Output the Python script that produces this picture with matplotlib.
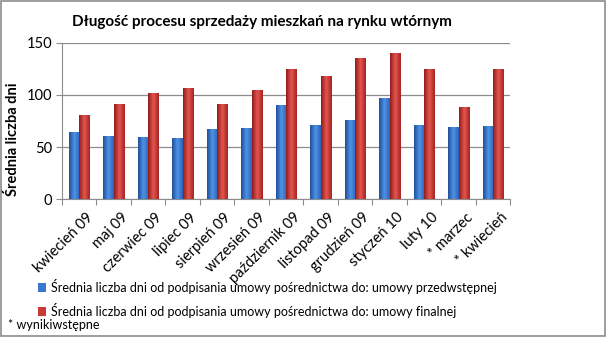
import numpy as np
import matplotlib.pyplot as plt
from matplotlib import patches
from matplotlib.colors import LinearSegmentedColormap

months = ['kwiecień 09', 'maj 09', 'czerwiec 09', 'lipiec 09', 'sierpień 09',
          'wrzesień 09', 'październik 09', 'listopad 09', 'grudzień 09',
          'styczeń 10', 'luty 10', '* marzec', '* kwiecień']
przedwstepna = [64, 61, 59.5, 58.5, 67, 68, 90, 71, 75.5, 97.5, 71, 69, 70]
finalna = [81, 91, 101.5, 107, 91, 104.5, 124.5, 118, 135, 140.5, 124.5, 88, 124.5]

label_blue = 'Średnia liczba dni od podpisania umowy pośrednictwa do: umowy przedwstępnej'
label_red = 'Średnia liczba dni od podpisania umowy pośrednictwa do: umowy finalnej'

plt.rcParams['font.family'] = ['Lato', 'DejaVu Sans']

blue_cmap = LinearSegmentedColormap.from_list('b', ['#1f4f99', '#4f92e6', '#2c63b8'])
red_cmap = LinearSegmentedColormap.from_list('r', ['#8f1c1c', '#e5554e', '#a32424'])


def shade_bars(ax, bars, cmap):
    '''paint a left-right gradient inside every bar'''
    grad = np.linspace(0, 1, 64).reshape(1, -1)
    for b in bars:
        x0, y0 = b.get_x(), b.get_y()
        w, h = b.get_width(), b.get_height()
        im = ax.imshow(grad, cmap=cmap, aspect='auto', zorder=b.get_zorder(),
                       extent=(x0, x0 + w, y0, y0 + h), interpolation='bilinear')
        im.set_clip_path(b)
        b.set_facecolor('none')


fig = plt.figure(figsize=(6.06, 3.37), dpi=100)
ax = fig.add_axes([0.102, 0.409, 0.740, 0.464])

x = np.arange(len(months))
w = 0.3
b1 = ax.bar(x - w/2, przedwstepna, w, zorder=3, linewidth=0)
b2 = ax.bar(x + w/2, finalna, w, zorder=3, linewidth=0)
shade_bars(ax, b1, blue_cmap)
shade_bars(ax, b2, red_cmap)

ax.set_xlim(-0.5, len(months) - 0.5)
ax.set_ylim(0, 150)
ax.set_yticks([0, 50, 100, 150])
ax.yaxis.grid(True, color='#8c8c8c', linewidth=0.9, zorder=0)
ax.set_axisbelow(True)
for s in ['top', 'right']:
    ax.spines[s].set_visible(False)
ax.spines['left'].set_color('#8c8c8c')
ax.spines['bottom'].set_color('#8c8c8c')
ax.tick_params(axis='y', length=4, color='#8c8c8c', labelsize=10.5, pad=3)
ax.set_xticks(np.arange(len(months) + 1) - 0.5)
ax.set_xticklabels([])
ax.set_xticks(x + 0.2, minor=True)
ax.set_xticklabels(months, minor=True, rotation=45, ha='right',
                   rotation_mode='anchor', fontsize=10.5)
ax.tick_params(axis='x', which='major', length=4, color='#8c8c8c')
ax.tick_params(axis='x', which='minor', length=0, pad=8)

ax.set_ylabel('Średnia liczba dni', fontsize=10.5, fontweight='bold')
ax.yaxis.set_label_coords(-0.093, 0.38)

fig.text(0.432, 0.935, 'Długość procesu sprzedaży mieszkań na rynku wtórnym',
         ha='center', va='center', fontsize=11, fontweight='bold')

ax.legend([b1, b2], [label_blue, label_red], loc='upper left',
          bbox_to_anchor=(0.062, 0.172), bbox_transform=fig.transFigure,
          frameon=False, fontsize=9, handlelength=0.7, handleheight=0.7,
          handletextpad=0.4, labelspacing=0.7, borderpad=0, borderaxespad=0)
leg = ax.get_legend()
leg.legend_handles[0].set_facecolor('#3a78d0')
leg.legend_handles[1].set_facecolor('#c83a36')

fig.text(0.013, 0.035, '* wynikiwstępne', fontsize=9, va='center')

fig.patches.append(patches.Rectangle((0.001, 0.002), 0.997, 0.995,
                                     transform=fig.transFigure, fill=False,
                                     edgecolor='#8c8c8c', linewidth=1.2))

fig.savefig('out.png', dpi=100)
